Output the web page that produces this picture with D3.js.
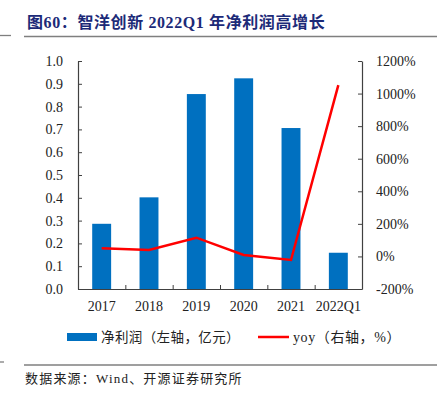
<!DOCTYPE html>
<html>
<head>
<meta charset="utf-8">
<script src="https://cdn.jsdelivr.net/npm/d3@7"></script>
<style>
  body { margin: 0; background: #fff; }
  svg { display: block; }
</style>
</head>
<body>
<svg id="chart"></svg>
<script>
// data
var years = ["2017", "2018", "2019", "2020", "2021", "2022Q1"];
var netProfit = [0.286, 0.402, 0.855, 0.924, 0.706, 0.159];
var yoy = [50, 39, 115, 9, -22, 1052];
var leftTicks = [0, 0.1, 0.2, 0.3, 0.4, 0.5, 0.6, 0.7, 0.8, 0.9, 1.0];
var rightTicks = [-200, 0, 200, 400, 600, 800, 1000, 1200];

var W = 437, H = 397;
var margin = {top: 61, right: 75, bottom: 108, left: 78};
var width = W - margin.left - margin.right,
    height = H - margin.top - margin.bottom;

var serif = "'Liberation Serif', 'Times New Roman', serif";
// latin glyphs in serif, CJK falls through to Noto
var mixed = "'Liberation Serif', 'Noto Sans CJK SC', serif";
var axisColor = "#404040";

const svg = d3.select("#chart").attr("width", W).attr("height", H);

// title + rules
svg.append("text")
    .attr("x", 27)
    .attr("y", 28)
    .style("font-family", mixed)
    .style("font-weight", "bold")
    .style("font-size", "16px")
    .style("letter-spacing", "0.6px")
    .style("fill", "#1c2a78")
    .text("图60：智洋创新 2022Q1 年净利润高增长");

[[0, 11, 35.5], [24, W, 36.5], [0, 4, 362], [24, W, 365]].forEach(function(l) {
  svg.append("line")
      .attr("x1", l[0]).attr("x2", l[1])
      .attr("y1", l[2]).attr("y2", l[2])
      .attr("stroke", "#7f7f7f")
      .attr("stroke-width", 1.3);
});

const g = svg.append("g")
    .attr("transform", `translate(${margin.left},${margin.top})`);

// scales
var x = d3.scaleBand().domain(years).range([0, width]).paddingInner(0.6).paddingOuter(0.3);
var y = d3.scaleLinear().domain([0, 1]).range([height, 0]);
var y2 = d3.scaleLinear().domain([-200, 1200]).range([height, 0]);

// bars
g.selectAll(".bar")
    .data(netProfit)
    .enter().append("rect")
    .attr("class", "bar")
    .attr("x", function(d, i) { return x(years[i]); })
    .attr("width", x.bandwidth())
    .attr("y", function(d) { return y(d); })
    .attr("height", function(d) { return height - y(d); })
    .attr("fill", "#0070c0");

// yoy line
var line = d3.line()
    .x(function(d, i) { return x(years[i]) + x.bandwidth() / 2; })
    .y(function(d) { return y2(d); });

g.append("path")
    .datum(yoy)
    .attr("fill", "none")
    .attr("stroke", "#ff0000")
    .attr("stroke-width", 2.5)
    .attr("stroke-linejoin", "miter")
    .attr("d", line);

// left axis
var leftAxis = g.append("g")
    .call(d3.axisLeft(y).tickValues(leftTicks).tickFormat(d3.format(".1f")).tickSizeInner(-4).tickSizeOuter(0));
// right axis
var rightAxis = g.append("g")
    .attr("transform", `translate(${width},0)`)
    .call(d3.axisRight(y2).tickValues(rightTicks).tickFormat(function(d) { return d + "%"; }).tickSizeInner(-4).tickSizeOuter(0));
// bottom axis, ticks sit between categories
var xb = d3.scaleLinear().domain([0, years.length]).range([0, width]);
var bottomAxis = g.append("g")
    .attr("transform", `translate(0,${height})`)
    .call(d3.axisBottom(xb).tickValues(d3.range(1, years.length)).tickFormat("").tickSizeInner(-4).tickSizeOuter(0));

[leftAxis, rightAxis, bottomAxis].forEach(function(a) {
  a.select(".domain").attr("stroke", axisColor).attr("stroke-width", 1.2);
  a.selectAll(".tick line").attr("stroke", axisColor);
  a.selectAll("text")
      .style("font-family", serif)
      .style("font-size", "14px")
      .style("fill", "#222");
});
leftAxis.selectAll("text").attr("x", -15);
rightAxis.selectAll("text").attr("x", 14);

// category labels
g.selectAll(".xlabel")
    .data(years)
    .enter().append("text")
    .attr("class", "xlabel")
    .attr("x", function(d) { return x(d) + x.bandwidth() / 2; })
    .attr("y", height + 22)
    .attr("text-anchor", "middle")
    .style("font-family", serif)
    .style("font-size", "14px")
    .style("fill", "#222")
    .text(function(d) { return d; });

// legend
const legend = svg.append("g");
legend.append("rect")
    .attr("x", 67).attr("y", 333)
    .attr("width", 30).attr("height", 8)
    .attr("fill", "#0070c0");
legend.append("text")
    .attr("x", 101).attr("y", 342)
    .style("font-family", mixed)
    .style("font-size", "13.5px")
    .style("letter-spacing", "0.4px")
    .style("fill", "#222")
    .text("净利润（左轴，亿元）");
legend.append("line")
    .attr("x1", 258).attr("x2", 289)
    .attr("y1", 337).attr("y2", 337)
    .attr("stroke", "#ff0000")
    .attr("stroke-width", 2.5);
legend.append("text")
    .attr("x", 293).attr("y", 342)
    .style("font-family", mixed)
    .style("font-size", "14px")
    .style("letter-spacing", "0.6px")
    .style("fill", "#222")
    .text("yoy（右轴，%）");

// source
svg.append("text")
    .attr("x", 25).attr("y", 383)
    .style("font-family", mixed)
    .style("font-size", "13px")
    .style("letter-spacing", "1.2px")
    .style("fill", "#222")
    .text("数据来源：Wind、开源证券研究所");
</script>
</body>
</html>
